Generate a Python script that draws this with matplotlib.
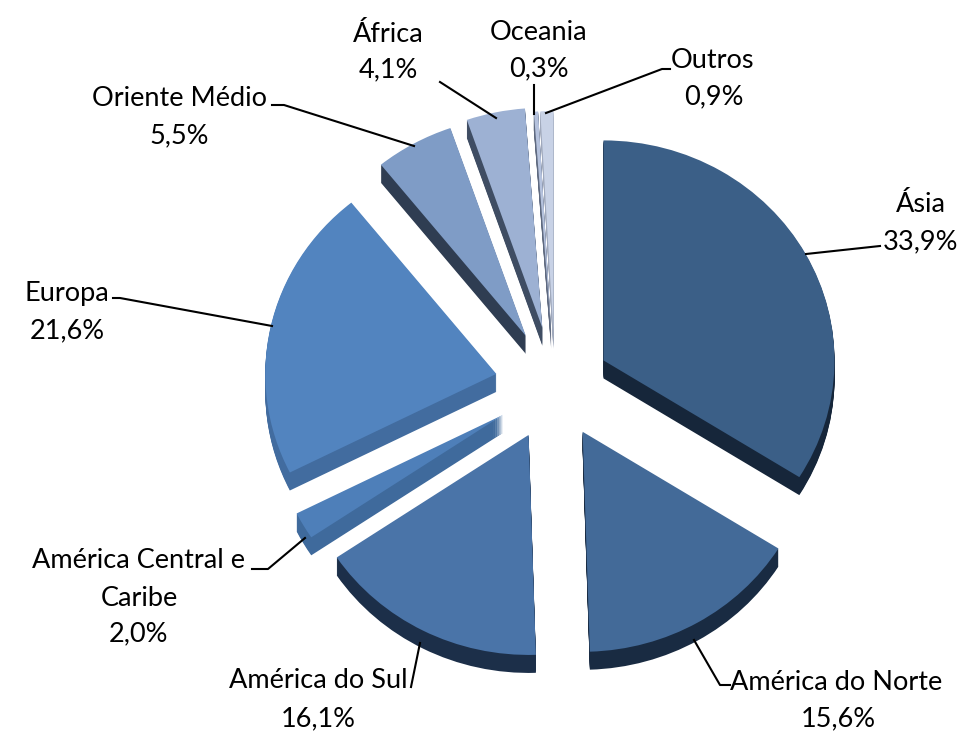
import matplotlib
matplotlib.use("Agg")
from matplotlib import pyplot as plt

regions = ["Ásia", "América do Norte", "América do Sul", "América Central e\nCaribe", "Europa",
           "Oriente Médio", "África", "Oceania", "Outros"]
shares = [33.9, 15.6, 16.1, 2.0, 21.6, 5.5, 4.1, 0.3, 0.9]
top_colors = ["#3B5F87", "#436A98", "#4A74A8", "#4E7FB9", "#5284BF",
              "#7F9CC6", "#9DB1D3", "#B5C2DD", "#C8D2E6"]
side_colors = ["#16263A", "#192B42", "#1C2F49", "#3F6A9C", "#426C9F",
               "#2F3D52", "#3F4D63", "#5F6A80", "#A0A9BC"]
explode = [0.24, 0.24, 0.25, 0.26, 0.26, 0.26, 0.27, 0.25, 0.25]

plt.rcParams['font.family'] = ['Lato', 'DejaVu Sans']

W, H = 966, 731
R, RY = 231.0, 220.0
CX, CY = 555.0, 386.0
DEPTH = 18

fig = plt.figure(figsize=(W / 100, H / 100), dpi=100)
ax = fig.add_axes([0, 0, 1, 1])

# the side walls are just the same pie stacked 1px at a time
for k in range(DEPTH, 0, -1):
    ax.pie(shares, explode=explode, colors=side_colors, startangle=90, counterclock=False,
           center=(0, -k / RY), radius=1)
ax.pie(shares, explode=explode, colors=top_colors, startangle=90, counterclock=False,
       center=(0, 0), radius=1)
ax.set_aspect('auto')
ax.set_xlim(-CX / R, (W - CX) / R)
ax.set_ylim((CY - H) / RY, CY / RY)
ax.axis('off')

# overlay in pixel coordinates for labels and leader lines
lab = fig.add_axes([0, 0, 1, 1])
lab.set_xlim(0, W)
lab.set_ylim(H, 0)
lab.axis('off')
lab.patch.set_alpha(0)

label_pos = [(921, 205), (836, 683), (318, 681), (139, 561), (67, 293),
             (179, 99), (388, 34), (539, 32), (712, 60)]
value_pos = [(921, 242), (838, 719), (318, 719), (139, 634), (67, 331),
             (179, 136), (388, 70), (539, 69), (714, 97)]
leaders = [
    [(806, 254), (880, 246)],
    [(694, 640), (720, 685), (730, 685)],
    [(420, 643), (411, 687)],
    [(305, 538), (268, 569), (252, 569)],
    [(272, 326), (120, 298), (113, 298)],
    [(414, 146), (284, 105), (272, 105)],
    [(496, 118), (440, 82)],
    [(534, 114), (534, 85)],
    [(546, 113), (662, 69), (670, 69)],
]

for name, share, lp, vp, pts in zip(regions, shares, label_pos, value_pos, leaders):
    lines = name.split("\n")
    for i, line in enumerate(lines):
        lab.text(lp[0], lp[1] + 38 * i, line, ha="center", va="center", fontsize=19.5, color="black")
    lab.text(vp[0], vp[1], f"{share:.1f}%".replace(".", ","), ha="center", va="center",
             fontsize=19.5, color="black")
    lab.plot([p[0] for p in pts], [p[1] for p in pts], color="black", lw=1.5)

fig.savefig("out.png", dpi=100)
